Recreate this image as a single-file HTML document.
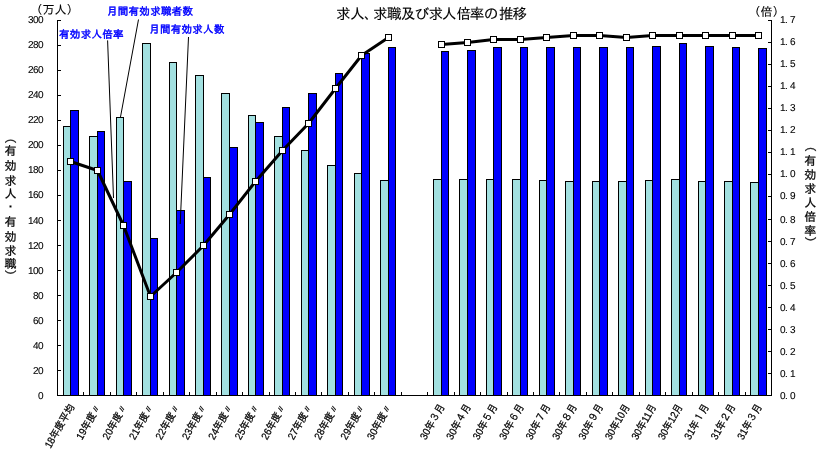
<!DOCTYPE html>
<html lang="ja"><head><meta charset="utf-8"><title>求人、求職及び求人倍率の推移</title>
<style>html,body{margin:0;padding:0;background:#fff}svg{display:block;will-change:transform}text{stroke:#000;stroke-width:0.25px}text.b{stroke:#00f;stroke-width:0.45px}text.n{stroke-width:0.1px}text.t{stroke-width:0.12px}</style></head>
<body>
<svg width="823" height="474" viewBox="0 0 823 474" font-family='"Liberation Sans", "IPAGothic", "Noto Sans CJK JP", sans-serif'>
<rect width="823" height="474" fill="#fff"/>
<g shape-rendering="crispEdges">
<rect x="63" y="126" width="8" height="269" fill="#000"/>
<rect x="64" y="127" width="6" height="268" fill="#A2E0E0"/>
<rect x="70" y="110" width="9" height="285" fill="#000"/>
<rect x="71" y="111" width="7" height="284" fill="#0000FF"/>
<rect x="89" y="136" width="9" height="259" fill="#000"/>
<rect x="90" y="137" width="7" height="258" fill="#A2E0E0"/>
<rect x="97" y="131" width="8" height="264" fill="#000"/>
<rect x="98" y="132" width="6" height="263" fill="#0000FF"/>
<rect x="116" y="117" width="8" height="278" fill="#000"/>
<rect x="117" y="118" width="6" height="277" fill="#A2E0E0"/>
<rect x="123" y="181" width="9" height="214" fill="#000"/>
<rect x="124" y="182" width="7" height="213" fill="#0000FF"/>
<rect x="142" y="43" width="9" height="352" fill="#000"/>
<rect x="143" y="44" width="7" height="351" fill="#A2E0E0"/>
<rect x="150" y="238" width="8" height="157" fill="#000"/>
<rect x="151" y="239" width="6" height="156" fill="#0000FF"/>
<rect x="169" y="62" width="8" height="333" fill="#000"/>
<rect x="170" y="63" width="6" height="332" fill="#A2E0E0"/>
<rect x="176" y="210" width="9" height="185" fill="#000"/>
<rect x="177" y="211" width="7" height="184" fill="#0000FF"/>
<rect x="195" y="75" width="9" height="320" fill="#000"/>
<rect x="196" y="76" width="7" height="319" fill="#A2E0E0"/>
<rect x="203" y="177" width="8" height="218" fill="#000"/>
<rect x="204" y="178" width="6" height="217" fill="#0000FF"/>
<rect x="221" y="93" width="9" height="302" fill="#000"/>
<rect x="222" y="94" width="7" height="301" fill="#A2E0E0"/>
<rect x="229" y="147" width="9" height="248" fill="#000"/>
<rect x="230" y="148" width="7" height="247" fill="#0000FF"/>
<rect x="248" y="115" width="8" height="280" fill="#000"/>
<rect x="249" y="116" width="6" height="279" fill="#A2E0E0"/>
<rect x="255" y="122" width="9" height="273" fill="#000"/>
<rect x="256" y="123" width="7" height="272" fill="#0000FF"/>
<rect x="274" y="136" width="9" height="259" fill="#000"/>
<rect x="275" y="137" width="7" height="258" fill="#A2E0E0"/>
<rect x="282" y="107" width="8" height="288" fill="#000"/>
<rect x="283" y="108" width="6" height="287" fill="#0000FF"/>
<rect x="301" y="150" width="8" height="245" fill="#000"/>
<rect x="302" y="151" width="6" height="244" fill="#A2E0E0"/>
<rect x="308" y="93" width="9" height="302" fill="#000"/>
<rect x="309" y="94" width="7" height="301" fill="#0000FF"/>
<rect x="327" y="165" width="9" height="230" fill="#000"/>
<rect x="328" y="166" width="7" height="229" fill="#A2E0E0"/>
<rect x="335" y="73" width="8" height="322" fill="#000"/>
<rect x="336" y="74" width="6" height="321" fill="#0000FF"/>
<rect x="354" y="173" width="8" height="222" fill="#000"/>
<rect x="355" y="174" width="6" height="221" fill="#A2E0E0"/>
<rect x="361" y="53" width="9" height="342" fill="#000"/>
<rect x="362" y="54" width="7" height="341" fill="#0000FF"/>
<rect x="380" y="180" width="9" height="215" fill="#000"/>
<rect x="381" y="181" width="7" height="214" fill="#A2E0E0"/>
<rect x="388" y="47" width="8" height="348" fill="#000"/>
<rect x="389" y="48" width="6" height="347" fill="#0000FF"/>
<rect x="433" y="179" width="9" height="216" fill="#000"/>
<rect x="434" y="180" width="7" height="215" fill="#A2E0E0"/>
<rect x="441" y="51" width="8" height="344" fill="#000"/>
<rect x="442" y="52" width="6" height="343" fill="#0000FF"/>
<rect x="459" y="179" width="9" height="216" fill="#000"/>
<rect x="460" y="180" width="7" height="215" fill="#A2E0E0"/>
<rect x="467" y="50" width="9" height="345" fill="#000"/>
<rect x="468" y="51" width="7" height="344" fill="#0000FF"/>
<rect x="486" y="179" width="8" height="216" fill="#000"/>
<rect x="487" y="180" width="6" height="215" fill="#A2E0E0"/>
<rect x="493" y="47" width="9" height="348" fill="#000"/>
<rect x="494" y="48" width="7" height="347" fill="#0000FF"/>
<rect x="512" y="179" width="9" height="216" fill="#000"/>
<rect x="513" y="180" width="7" height="215" fill="#A2E0E0"/>
<rect x="520" y="47" width="8" height="348" fill="#000"/>
<rect x="521" y="48" width="6" height="347" fill="#0000FF"/>
<rect x="539" y="180" width="8" height="215" fill="#000"/>
<rect x="540" y="181" width="6" height="214" fill="#A2E0E0"/>
<rect x="546" y="47" width="9" height="348" fill="#000"/>
<rect x="547" y="48" width="7" height="347" fill="#0000FF"/>
<rect x="565" y="181" width="9" height="214" fill="#000"/>
<rect x="566" y="182" width="7" height="213" fill="#A2E0E0"/>
<rect x="573" y="47" width="8" height="348" fill="#000"/>
<rect x="574" y="48" width="6" height="347" fill="#0000FF"/>
<rect x="592" y="181" width="8" height="214" fill="#000"/>
<rect x="593" y="182" width="6" height="213" fill="#A2E0E0"/>
<rect x="599" y="47" width="9" height="348" fill="#000"/>
<rect x="600" y="48" width="7" height="347" fill="#0000FF"/>
<rect x="618" y="181" width="9" height="214" fill="#000"/>
<rect x="619" y="182" width="7" height="213" fill="#A2E0E0"/>
<rect x="626" y="47" width="8" height="348" fill="#000"/>
<rect x="627" y="48" width="6" height="347" fill="#0000FF"/>
<rect x="645" y="180" width="8" height="215" fill="#000"/>
<rect x="646" y="181" width="6" height="214" fill="#A2E0E0"/>
<rect x="652" y="46" width="9" height="349" fill="#000"/>
<rect x="653" y="47" width="7" height="348" fill="#0000FF"/>
<rect x="671" y="179" width="9" height="216" fill="#000"/>
<rect x="672" y="180" width="7" height="215" fill="#A2E0E0"/>
<rect x="679" y="43" width="8" height="352" fill="#000"/>
<rect x="680" y="44" width="6" height="351" fill="#0000FF"/>
<rect x="698" y="181" width="8" height="214" fill="#000"/>
<rect x="699" y="182" width="6" height="213" fill="#A2E0E0"/>
<rect x="705" y="46" width="9" height="349" fill="#000"/>
<rect x="706" y="47" width="7" height="348" fill="#0000FF"/>
<rect x="724" y="181" width="9" height="214" fill="#000"/>
<rect x="725" y="182" width="7" height="213" fill="#A2E0E0"/>
<rect x="732" y="47" width="8" height="348" fill="#000"/>
<rect x="733" y="48" width="6" height="347" fill="#0000FF"/>
<rect x="750" y="182" width="9" height="213" fill="#000"/>
<rect x="751" y="183" width="7" height="212" fill="#A2E0E0"/>
<rect x="758" y="48" width="9" height="347" fill="#000"/>
<rect x="759" y="49" width="7" height="346" fill="#0000FF"/>
<rect x="57" y="20" width="1" height="376" fill="#000"/>
<rect x="771" y="20" width="1" height="376" fill="#000"/>
<rect x="57" y="395" width="715" height="1" fill="#000"/>
<rect x="58" y="395" width="3" height="1" fill="#000"/>
<rect x="58" y="370" width="3" height="1" fill="#000"/>
<rect x="58" y="345" width="3" height="1" fill="#000"/>
<rect x="58" y="320" width="3" height="1" fill="#000"/>
<rect x="58" y="295" width="3" height="1" fill="#000"/>
<rect x="58" y="270" width="3" height="1" fill="#000"/>
<rect x="58" y="245" width="3" height="1" fill="#000"/>
<rect x="58" y="220" width="3" height="1" fill="#000"/>
<rect x="58" y="195" width="3" height="1" fill="#000"/>
<rect x="58" y="170" width="3" height="1" fill="#000"/>
<rect x="58" y="145" width="3" height="1" fill="#000"/>
<rect x="58" y="120" width="3" height="1" fill="#000"/>
<rect x="58" y="95" width="3" height="1" fill="#000"/>
<rect x="58" y="70" width="3" height="1" fill="#000"/>
<rect x="58" y="45" width="3" height="1" fill="#000"/>
<rect x="58" y="20" width="3" height="1" fill="#000"/>
<rect x="768" y="395" width="3" height="1" fill="#000"/>
<rect x="768" y="373" width="3" height="1" fill="#000"/>
<rect x="768" y="351" width="3" height="1" fill="#000"/>
<rect x="768" y="329" width="3" height="1" fill="#000"/>
<rect x="768" y="307" width="3" height="1" fill="#000"/>
<rect x="768" y="285" width="3" height="1" fill="#000"/>
<rect x="768" y="263" width="3" height="1" fill="#000"/>
<rect x="768" y="241" width="3" height="1" fill="#000"/>
<rect x="768" y="219" width="3" height="1" fill="#000"/>
<rect x="768" y="196" width="3" height="1" fill="#000"/>
<rect x="768" y="174" width="3" height="1" fill="#000"/>
<rect x="768" y="152" width="3" height="1" fill="#000"/>
<rect x="768" y="130" width="3" height="1" fill="#000"/>
<rect x="768" y="108" width="3" height="1" fill="#000"/>
<rect x="768" y="86" width="3" height="1" fill="#000"/>
<rect x="768" y="64" width="3" height="1" fill="#000"/>
<rect x="768" y="42" width="3" height="1" fill="#000"/>
<rect x="768" y="20" width="3" height="1" fill="#000"/>
<rect x="83" y="392" width="1" height="3" fill="#000"/>
<rect x="110" y="392" width="1" height="3" fill="#000"/>
<rect x="136" y="392" width="1" height="3" fill="#000"/>
<rect x="163" y="392" width="1" height="3" fill="#000"/>
<rect x="189" y="392" width="1" height="3" fill="#000"/>
<rect x="216" y="392" width="1" height="3" fill="#000"/>
<rect x="242" y="392" width="1" height="3" fill="#000"/>
<rect x="269" y="392" width="1" height="3" fill="#000"/>
<rect x="295" y="392" width="1" height="3" fill="#000"/>
<rect x="321" y="392" width="1" height="3" fill="#000"/>
<rect x="348" y="392" width="1" height="3" fill="#000"/>
<rect x="374" y="392" width="1" height="3" fill="#000"/>
<rect x="401" y="392" width="1" height="3" fill="#000"/>
<rect x="427" y="392" width="1" height="3" fill="#000"/>
<rect x="454" y="392" width="1" height="3" fill="#000"/>
<rect x="480" y="392" width="1" height="3" fill="#000"/>
<rect x="507" y="392" width="1" height="3" fill="#000"/>
<rect x="533" y="392" width="1" height="3" fill="#000"/>
<rect x="559" y="392" width="1" height="3" fill="#000"/>
<rect x="586" y="392" width="1" height="3" fill="#000"/>
<rect x="612" y="392" width="1" height="3" fill="#000"/>
<rect x="639" y="392" width="1" height="3" fill="#000"/>
<rect x="665" y="392" width="1" height="3" fill="#000"/>
<rect x="692" y="392" width="1" height="3" fill="#000"/>
<rect x="718" y="392" width="1" height="3" fill="#000"/>
<rect x="745" y="392" width="1" height="3" fill="#000"/>
</g>
<line x1="107.6" y1="40.4" x2="113.5" y2="198" stroke="#000" stroke-width="1"/>
<line x1="138.5" y1="19.5" x2="120.4" y2="117.5" stroke="#000" stroke-width="1"/>
<line x1="188.5" y1="37" x2="180.2" y2="224" stroke="#000" stroke-width="1"/>
<polyline fill="none" stroke="#000" stroke-width="3" stroke-linejoin="round" points="70.50,161.50 97.50,170.50 123.50,225.50 150.50,296.50 176.50,272.50 203.50,245.50 229.50,214.50 255.50,181.50 282.50,150.50 308.50,123.50 335.50,88.50 361.50,55.50 388.50,37.50"/>
<g shape-rendering="crispEdges">
<rect x="67" y="158" width="7" height="7" fill="#000"/>
<rect x="68" y="159" width="5" height="5" fill="#fff"/>
<rect x="94" y="167" width="7" height="7" fill="#000"/>
<rect x="95" y="168" width="5" height="5" fill="#fff"/>
<rect x="120" y="222" width="7" height="7" fill="#000"/>
<rect x="121" y="223" width="5" height="5" fill="#fff"/>
<rect x="147" y="293" width="7" height="7" fill="#000"/>
<rect x="148" y="294" width="5" height="5" fill="#fff"/>
<rect x="173" y="269" width="7" height="7" fill="#000"/>
<rect x="174" y="270" width="5" height="5" fill="#fff"/>
<rect x="200" y="242" width="7" height="7" fill="#000"/>
<rect x="201" y="243" width="5" height="5" fill="#fff"/>
<rect x="226" y="211" width="7" height="7" fill="#000"/>
<rect x="227" y="212" width="5" height="5" fill="#fff"/>
<rect x="252" y="178" width="7" height="7" fill="#000"/>
<rect x="253" y="179" width="5" height="5" fill="#fff"/>
<rect x="279" y="147" width="7" height="7" fill="#000"/>
<rect x="280" y="148" width="5" height="5" fill="#fff"/>
<rect x="305" y="120" width="7" height="7" fill="#000"/>
<rect x="306" y="121" width="5" height="5" fill="#fff"/>
<rect x="332" y="85" width="7" height="7" fill="#000"/>
<rect x="333" y="86" width="5" height="5" fill="#fff"/>
<rect x="358" y="52" width="7" height="7" fill="#000"/>
<rect x="359" y="53" width="5" height="5" fill="#fff"/>
<rect x="385" y="34" width="7" height="7" fill="#000"/>
<rect x="386" y="35" width="5" height="5" fill="#fff"/>
</g>
<polyline fill="none" stroke="#000" stroke-width="3" stroke-linejoin="round" points="441.50,44.50 467.50,42.50 493.50,39.50 520.50,39.50 546.50,37.50 573.50,35.50 599.50,35.50 626.50,37.50 652.50,35.50 679.50,35.50 705.50,35.50 732.50,35.50 758.50,35.50"/>
<g shape-rendering="crispEdges">
<rect x="438" y="41" width="7" height="7" fill="#000"/>
<rect x="439" y="42" width="5" height="5" fill="#fff"/>
<rect x="464" y="39" width="7" height="7" fill="#000"/>
<rect x="465" y="40" width="5" height="5" fill="#fff"/>
<rect x="490" y="36" width="7" height="7" fill="#000"/>
<rect x="491" y="37" width="5" height="5" fill="#fff"/>
<rect x="517" y="36" width="7" height="7" fill="#000"/>
<rect x="518" y="37" width="5" height="5" fill="#fff"/>
<rect x="543" y="34" width="7" height="7" fill="#000"/>
<rect x="544" y="35" width="5" height="5" fill="#fff"/>
<rect x="570" y="32" width="7" height="7" fill="#000"/>
<rect x="571" y="33" width="5" height="5" fill="#fff"/>
<rect x="596" y="32" width="7" height="7" fill="#000"/>
<rect x="597" y="33" width="5" height="5" fill="#fff"/>
<rect x="623" y="34" width="7" height="7" fill="#000"/>
<rect x="624" y="35" width="5" height="5" fill="#fff"/>
<rect x="649" y="32" width="7" height="7" fill="#000"/>
<rect x="650" y="33" width="5" height="5" fill="#fff"/>
<rect x="676" y="32" width="7" height="7" fill="#000"/>
<rect x="677" y="33" width="5" height="5" fill="#fff"/>
<rect x="702" y="32" width="7" height="7" fill="#000"/>
<rect x="703" y="33" width="5" height="5" fill="#fff"/>
<rect x="729" y="32" width="7" height="7" fill="#000"/>
<rect x="730" y="33" width="5" height="5" fill="#fff"/>
<rect x="755" y="32" width="7" height="7" fill="#000"/>
<rect x="756" y="33" width="5" height="5" fill="#fff"/>
</g>
<text x="336.1 350.1 364.1 373.1 387.1 400.70000000000005 414.70000000000005 428.5 441.70000000000005 456.5 469.8 483.8 499.1 512.5" y="19.2" font-size="14.6" class="t">求人、求職及び求人倍率の推移</text>
<text x="30.5" y="14.2" font-size="12" class="t">（万人）</text>
<text x="748.5" y="16" font-size="12" class="t">（倍）</text>
<text x="107" y="15.3" font-size="10.5" fill="#0000FF" class="b" textLength="86">月間有効求職者数</text>
<text x="59" y="38" font-size="10.5" fill="#0000FF" class="b" textLength="64.6">有効求人倍率</text>
<text x="149.2" y="32.7" font-size="10.5" fill="#0000FF" class="b" textLength="75.2">月間有効求人数</text>
<text class="n" font-size="10" text-anchor="end" letter-spacing="-0.56" transform="translate(42.9,399) rotate(0.05)">0</text>
<text class="n" font-size="10" text-anchor="end" letter-spacing="-0.56" transform="translate(42.9,374) rotate(0.05)">20</text>
<text class="n" font-size="10" text-anchor="end" letter-spacing="-0.56" transform="translate(42.9,349) rotate(0.05)">40</text>
<text class="n" font-size="10" text-anchor="end" letter-spacing="-0.56" transform="translate(42.9,324) rotate(0.05)">60</text>
<text class="n" font-size="10" text-anchor="end" letter-spacing="-0.56" transform="translate(42.9,299) rotate(0.05)">80</text>
<text class="n" font-size="10" text-anchor="end" letter-spacing="-0.56" transform="translate(42.9,274) rotate(0.05)">100</text>
<text class="n" font-size="10" text-anchor="end" letter-spacing="-0.56" transform="translate(42.9,249) rotate(0.05)">120</text>
<text class="n" font-size="10" text-anchor="end" letter-spacing="-0.56" transform="translate(42.9,224) rotate(0.05)">140</text>
<text class="n" font-size="10" text-anchor="end" letter-spacing="-0.56" transform="translate(42.9,198) rotate(0.05)">160</text>
<text class="n" font-size="10" text-anchor="end" letter-spacing="-0.56" transform="translate(42.9,173) rotate(0.05)">180</text>
<text class="n" font-size="10" text-anchor="end" letter-spacing="-0.56" transform="translate(42.9,148) rotate(0.05)">200</text>
<text class="n" font-size="10" text-anchor="end" letter-spacing="-0.56" transform="translate(42.9,123) rotate(0.05)">220</text>
<text class="n" font-size="10" text-anchor="end" letter-spacing="-0.56" transform="translate(42.9,98) rotate(0.05)">240</text>
<text class="n" font-size="10" text-anchor="end" letter-spacing="-0.56" transform="translate(42.9,73) rotate(0.05)">260</text>
<text class="n" font-size="10" text-anchor="end" letter-spacing="-0.56" transform="translate(42.9,48) rotate(0.05)">280</text>
<text class="n" font-size="10" text-anchor="end" letter-spacing="-0.56" transform="translate(42.9,23) rotate(0.05)">300</text>
<text class="n" font-size="10" x="0 5 10" transform="translate(780,399) rotate(0.05)">0.0</text>
<text class="n" font-size="10" x="0 5 10" transform="translate(780,377) rotate(0.05)">0.1</text>
<text class="n" font-size="10" x="0 5 10" transform="translate(780,355) rotate(0.05)">0.2</text>
<text class="n" font-size="10" x="0 5 10" transform="translate(780,333) rotate(0.05)">0.3</text>
<text class="n" font-size="10" x="0 5 10" transform="translate(780,311) rotate(0.05)">0.4</text>
<text class="n" font-size="10" x="0 5 10" transform="translate(780,289) rotate(0.05)">0.5</text>
<text class="n" font-size="10" x="0 5 10" transform="translate(780,267) rotate(0.05)">0.6</text>
<text class="n" font-size="10" x="0 5 10" transform="translate(780,245) rotate(0.05)">0.7</text>
<text class="n" font-size="10" x="0 5 10" transform="translate(780,223) rotate(0.05)">0.8</text>
<text class="n" font-size="10" x="0 5 10" transform="translate(780,199) rotate(0.05)">0.9</text>
<text class="n" font-size="10" x="0 5 10" transform="translate(780,177) rotate(0.05)">1.0</text>
<text class="n" font-size="10" x="0 5 10" transform="translate(780,155) rotate(0.05)">1.1</text>
<text class="n" font-size="10" x="0 5 10" transform="translate(780,133) rotate(0.05)">1.2</text>
<text class="n" font-size="10" x="0 5 10" transform="translate(780,111) rotate(0.05)">1.3</text>
<text class="n" font-size="10" x="0 5 10" transform="translate(780,89) rotate(0.05)">1.4</text>
<text class="n" font-size="10" x="0 5 10" transform="translate(780,67) rotate(0.05)">1.5</text>
<text class="n" font-size="10" x="0 5 10" transform="translate(780,45) rotate(0.05)">1.6</text>
<text class="n" font-size="10" x="0 5 10" transform="translate(780,23) rotate(0.05)">1.7</text>
<text font-size="12" text-anchor="middle" transform="translate(10.4,137.7) rotate(90)" x="0" y="4.3">（</text>
<text font-size="12" text-anchor="middle" x="10.4" y="155.4">有</text>
<text font-size="12" text-anchor="middle" x="10.4" y="170.4">効</text>
<text font-size="12" text-anchor="middle" x="10.4" y="184.9">求</text>
<text font-size="12" text-anchor="middle" x="10.4" y="198.4">人</text>
<text font-size="12" text-anchor="middle" x="10.4" y="211.3">・</text>
<text font-size="12" text-anchor="middle" x="10.4" y="226.4">有</text>
<text font-size="12" text-anchor="middle" x="10.4" y="240.7">効</text>
<text font-size="12" text-anchor="middle" x="10.4" y="254.9">求</text>
<text font-size="12" text-anchor="middle" x="10.4" y="268.4">職</text>
<text font-size="12" text-anchor="middle" transform="translate(10.4,275.4) rotate(90)" x="0" y="4.3">）</text>
<text font-size="12" text-anchor="middle" transform="translate(810.2,146.1) rotate(90)" x="0" y="4.3">（</text>
<text font-size="12" text-anchor="middle" x="810.2" y="165.4">有</text>
<text font-size="12" text-anchor="middle" x="810.2" y="179.2">効</text>
<text font-size="12" text-anchor="middle" x="810.2" y="192.9">求</text>
<text font-size="12" text-anchor="middle" x="810.2" y="206.9">人</text>
<text font-size="12" text-anchor="middle" x="810.2" y="221.3">倍</text>
<text font-size="12" text-anchor="middle" x="810.2" y="235.2">率</text>
<text font-size="12" text-anchor="middle" transform="translate(810.2,242.3) rotate(90)" x="0" y="4.3">）</text>
<text font-size="10.5" text-anchor="end" textLength="49" lengthAdjust="spacingAndGlyphs" transform="translate(71.72,404.8) rotate(-60)" x="0" y="3.7">18年度平均</text>
<text font-size="10.5" text-anchor="end" textLength="39" lengthAdjust="spacingAndGlyphs" transform="translate(98.17,404.8) rotate(-60)" x="0" y="3.7">19年度〃</text>
<text font-size="10.5" text-anchor="end" textLength="39" lengthAdjust="spacingAndGlyphs" transform="translate(124.61,404.8) rotate(-60)" x="0" y="3.7">20年度〃</text>
<text font-size="10.5" text-anchor="end" textLength="39" lengthAdjust="spacingAndGlyphs" transform="translate(151.06,404.8) rotate(-60)" x="0" y="3.7">21年度〃</text>
<text font-size="10.5" text-anchor="end" textLength="39" lengthAdjust="spacingAndGlyphs" transform="translate(177.50,404.8) rotate(-60)" x="0" y="3.7">22年度〃</text>
<text font-size="10.5" text-anchor="end" textLength="39" lengthAdjust="spacingAndGlyphs" transform="translate(203.94,404.8) rotate(-60)" x="0" y="3.7">23年度〃</text>
<text font-size="10.5" text-anchor="end" textLength="39" lengthAdjust="spacingAndGlyphs" transform="translate(230.39,404.8) rotate(-60)" x="0" y="3.7">24年度〃</text>
<text font-size="10.5" text-anchor="end" textLength="39" lengthAdjust="spacingAndGlyphs" transform="translate(256.83,404.8) rotate(-60)" x="0" y="3.7">25年度〃</text>
<text font-size="10.5" text-anchor="end" textLength="39" lengthAdjust="spacingAndGlyphs" transform="translate(283.28,404.8) rotate(-60)" x="0" y="3.7">26年度〃</text>
<text font-size="10.5" text-anchor="end" textLength="39" lengthAdjust="spacingAndGlyphs" transform="translate(309.72,404.8) rotate(-60)" x="0" y="3.7">27年度〃</text>
<text font-size="10.5" text-anchor="end" textLength="39" lengthAdjust="spacingAndGlyphs" transform="translate(336.17,404.8) rotate(-60)" x="0" y="3.7">28年度〃</text>
<text font-size="10.5" text-anchor="end" textLength="39" lengthAdjust="spacingAndGlyphs" transform="translate(362.61,404.8) rotate(-60)" x="0" y="3.7">29年度〃</text>
<text font-size="10.5" text-anchor="end" textLength="39" lengthAdjust="spacingAndGlyphs" transform="translate(389.06,404.8) rotate(-60)" x="0" y="3.7">30年度〃</text>
<text font-size="10.5" text-anchor="end" textLength="39" lengthAdjust="spacingAndGlyphs" transform="translate(441.94,404.8) rotate(-60)" x="0" y="3.7">30年３月</text>
<text font-size="10.5" text-anchor="end" textLength="39" lengthAdjust="spacingAndGlyphs" transform="translate(468.39,404.8) rotate(-60)" x="0" y="3.7">30年４月</text>
<text font-size="10.5" text-anchor="end" textLength="39" lengthAdjust="spacingAndGlyphs" transform="translate(494.83,404.8) rotate(-60)" x="0" y="3.7">30年５月</text>
<text font-size="10.5" text-anchor="end" textLength="39" lengthAdjust="spacingAndGlyphs" transform="translate(521.28,404.8) rotate(-60)" x="0" y="3.7">30年６月</text>
<text font-size="10.5" text-anchor="end" textLength="39" lengthAdjust="spacingAndGlyphs" transform="translate(547.72,404.8) rotate(-60)" x="0" y="3.7">30年７月</text>
<text font-size="10.5" text-anchor="end" textLength="39" lengthAdjust="spacingAndGlyphs" transform="translate(574.17,404.8) rotate(-60)" x="0" y="3.7">30年８月</text>
<text font-size="10.5" text-anchor="end" textLength="39" lengthAdjust="spacingAndGlyphs" transform="translate(600.61,404.8) rotate(-60)" x="0" y="3.7">30年９月</text>
<text font-size="10.5" text-anchor="end" textLength="39" lengthAdjust="spacingAndGlyphs" transform="translate(627.06,404.8) rotate(-60)" x="0" y="3.7">30年10月</text>
<text font-size="10.5" text-anchor="end" textLength="39" lengthAdjust="spacingAndGlyphs" transform="translate(653.50,404.8) rotate(-60)" x="0" y="3.7">30年11月</text>
<text font-size="10.5" text-anchor="end" textLength="39" lengthAdjust="spacingAndGlyphs" transform="translate(679.94,404.8) rotate(-60)" x="0" y="3.7">30年12月</text>
<text font-size="10.5" text-anchor="end" textLength="39" lengthAdjust="spacingAndGlyphs" transform="translate(706.39,404.8) rotate(-60)" x="0" y="3.7">31年１月</text>
<text font-size="10.5" text-anchor="end" textLength="39" lengthAdjust="spacingAndGlyphs" transform="translate(732.83,404.8) rotate(-60)" x="0" y="3.7">31年２月</text>
<text font-size="10.5" text-anchor="end" textLength="39" lengthAdjust="spacingAndGlyphs" transform="translate(759.28,404.8) rotate(-60)" x="0" y="3.7">31年３月</text>
</svg>
</body></html>
